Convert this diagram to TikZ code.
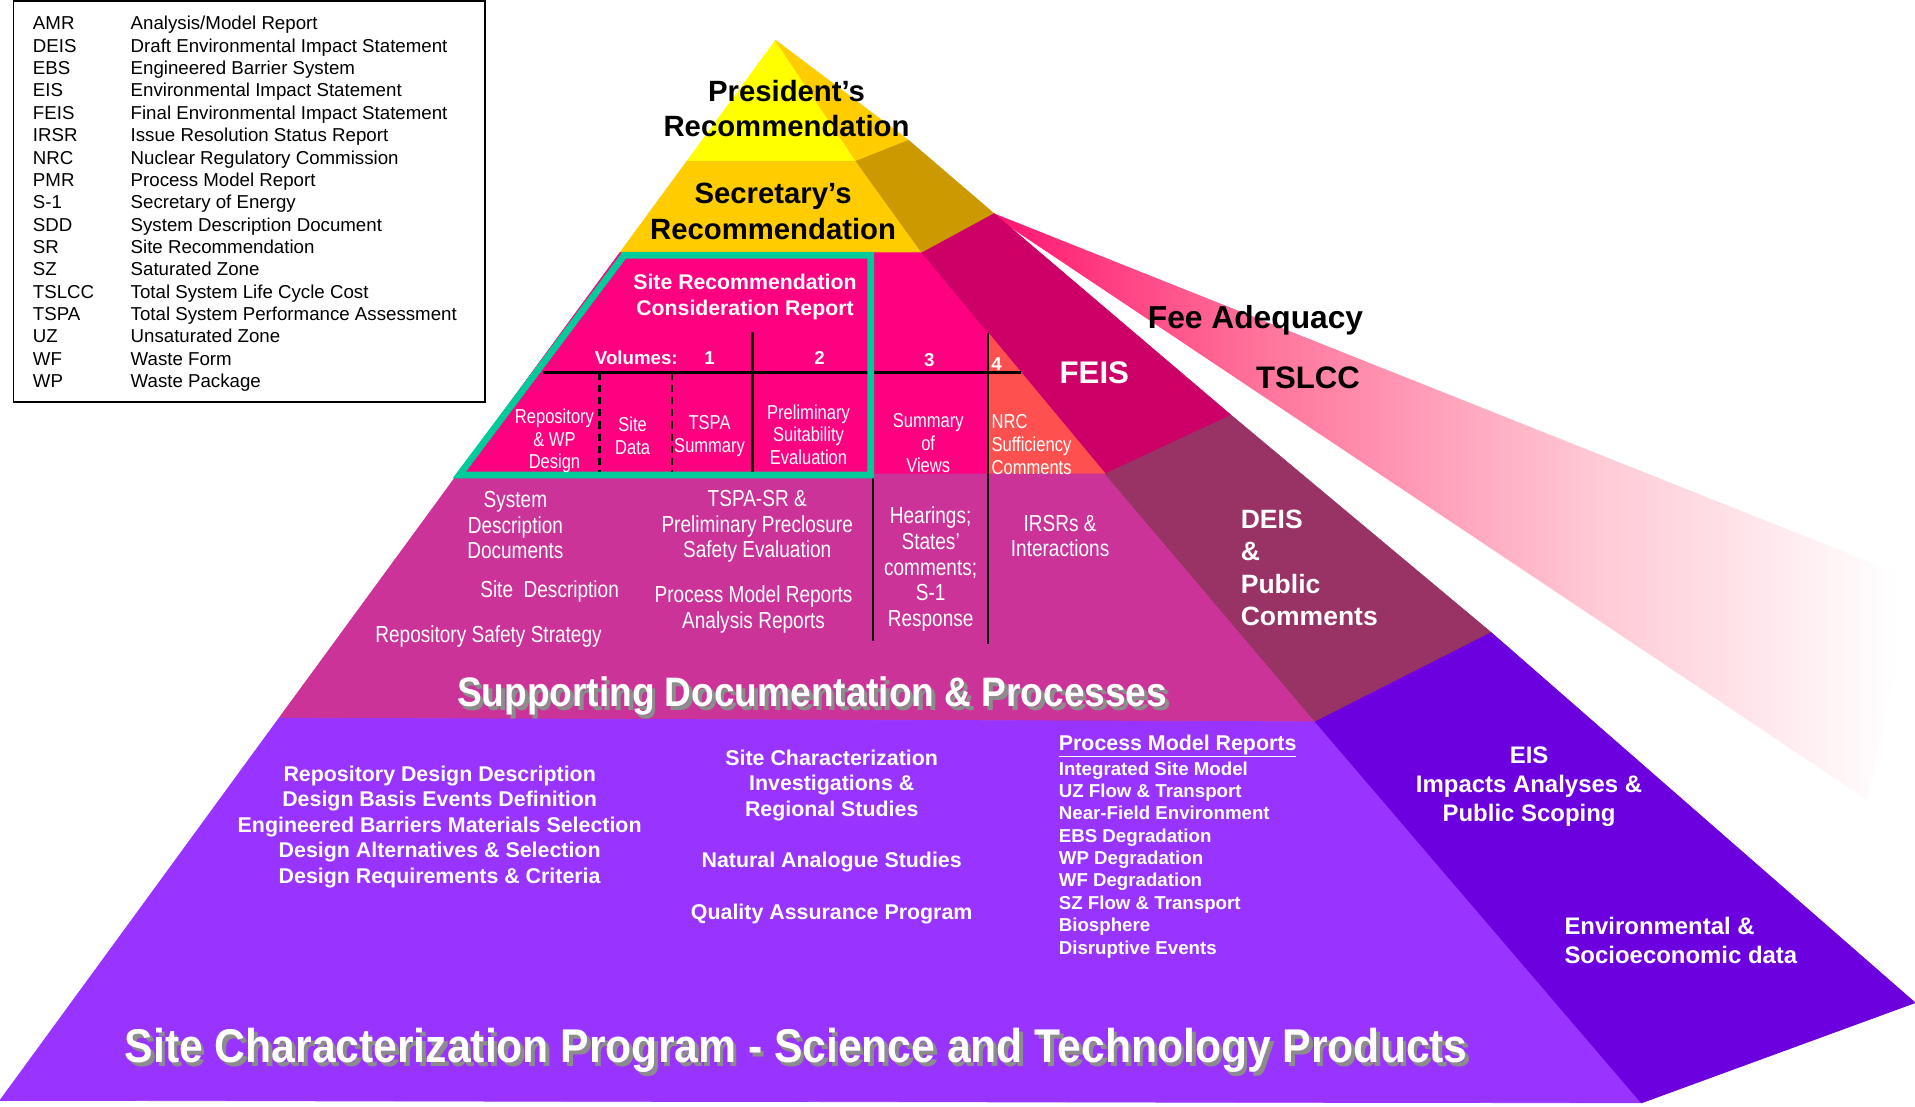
\documentclass[tikz,border=0pt]{standalone}
\usepackage{fontspec}
\setmainfont{Liberation Sans}
\newfontfamily\narrowfont[FakeStretch=0.82]{Liberation Sans}
\newfontfamily\titlefont[FakeStretch=0.9]{Liberation Sans}
\definecolor{presyellow}{HTML}{FFFF00}
\definecolor{secgold}{HTML}{FFCC00}
\definecolor{secside}{HTML}{CC9900}
\definecolor{srpink}{HTML}{FF0080}
\definecolor{feisside}{HTML}{CC0066}
\definecolor{nrcorange}{HTML}{FF5050}
\definecolor{supppink}{HTML}{CC3399}
\definecolor{deisside}{HTML}{993366}
\definecolor{scpurple}{HTML}{9933FF}
\definecolor{eisside}{HTML}{6C00DE}
\definecolor{srgreen}{HTML}{00CC99}
\definecolor{beampink}{HTML}{FF1470}
\definecolor{beammid}{RGB}{255,112,152}
\definecolor{beamlight}{RGB}{255,202,214}
\definecolor{beampale}{RGB}{255,232,237}
\pgfdeclarehorizontalshading{beamfade}{100bp}{color(0bp)=(beampink); color(25bp)=(beampink); color(39bp)=(beammid); color(58bp)=(beamlight); color(67bp)=(beampale); color(74bp)=(white); color(100bp)=(white)}
\begin{document}
\begin{tikzpicture}[x=1pt,y=-1pt,
	every node/.style={inner sep=0pt,outer sep=0pt},
	face/.style={fill=#1,draw=#1,line width=0.6pt,line join=round},
	legend/.style={anchor=base west,font=\fontsize{15.3}{18.3}\selectfont},
	hdr/.style={align=center,font=\bfseries\fontsize{24}{29}\selectfont},
	cell/.style={text=white,align=center,font=\narrowfont\fontsize{16.5}{18.5}\selectfont},
	supp/.style={text=white,align=center,font=\narrowfont\fontsize{19}{21}\selectfont},
	sci/.style={text=white,align=center,font=\bfseries\fontsize{17.5}{21}\selectfont},
	sidetext/.style={text=white,font=\bfseries\fontsize{19.6}{23.5}\selectfont},
	bigtitle/.style={font=\titlefont\bfseries\fontsize{#1}{#1}\selectfont},
	rule/.style={line width=2pt}]
	\useasboundingbox (0,0) rectangle (1568,906);
	\coordinate (apex) at (635,33);
	\coordinate (pl) at (562.5,132);
	\coordinate (pr) at (701,132);
	\coordinate (ps) at (744,115);
	\coordinate (sl) at (507.5,207);
	\coordinate (sr) at (755,207);
	\coordinate (ss) at (814,175);
	\coordinate (rl) at (374.8,388);
	\coordinate (rr) at (905,388);
	\coordinate (rs) at (1008,340);
	\coordinate (ul) at (228.5,588);
	\coordinate (ur) at (1077,591);
	\coordinate (us) at (1221,518);
	\coordinate (bl) at (0,901);
	\coordinate (br) at (1344,903);
	\coordinate (bs) at (1568,821);
	\shade[shading=beamfade] (812,174) -- (1568,475) -- (1529,655) -- (818,180) -- cycle;
	\filldraw[face=presyellow] (apex) -- (pl) -- (pr) -- cycle;
	\filldraw[face=secgold] (apex) -- (pr) -- (ps) -- cycle;
	\filldraw[face=secgold] (pl) -- (sl) -- (sr) -- (pr) -- cycle;
	\filldraw[face=secside] (pr) -- (ps) -- (ss) -- (sr) -- cycle;
	\filldraw[face=srpink] (sl) -- (rl) -- (rr) -- (sr) -- cycle;
	\filldraw[face=feisside] (sr) -- (ss) -- (rs) -- (rr) -- cycle;
	\filldraw[face=nrcorange] (809,272.5) -- (rr) -- (809,388) -- cycle;
	\filldraw[face=supppink] (rl) -- (ul) -- (ur) -- (rr) -- cycle;
	\filldraw[face=deisside] (rr) -- (rs) -- (us) -- (ur) -- cycle;
	\filldraw[face=scpurple] (ul) -- (bl) -- (br) -- (ur) -- cycle;
	\filldraw[face=eisside] (ur) -- (us) -- (bs) -- (br) -- cycle;
	\draw[rule] (445,305) -- (836,305);
	\draw[rule] (616,272) -- (616,388);
	\draw[rule,dash pattern=on 6pt off 4pt] (491,305) -- (491,388);
	\draw[rule,dash pattern=on 6pt off 4pt] (550,305) -- (550,388);
	\draw[rule] (715,388) -- (715,525);
	\draw[rule] (809,273) -- (809,527);
	\draw[srgreen,line width=5.5pt] (376,389) -- (511,209) -- (713,209) -- (713,389) -- cycle;
	\draw[line width=1.5pt] (11,1) rectangle (397,329);
	\foreach \ab/\df [count=\i] in {AMR/{Analysis/Model Report},DEIS/Draft Environmental Impact Statement,EBS/Engineered Barrier System,EIS/Environmental Impact Statement,FEIS/Final Environmental Impact Statement,IRSR/Issue Resolution Status Report,NRC/Nuclear Regulatory Commission,PMR/Process Model Report,S-1/Secretary of Energy,SDD/System Description Document,SR/Site Recommendation,SZ/Saturated Zone,TSLCC/Total System Life Cycle Cost,TSPA/Total System Performance Assessment,UZ/Unsaturated Zone,WF/Waste Form,WP/Waste Package}
	{
		\node[legend] (ab\i) at (27,{24.5+(\i-1)*18.3}) {\ab};
		\node[legend] (df\i) at (107,{24.5+(\i-1)*18.3}) {\df};
	}
	\node[hdr] (pres) at (644,89) {President’s\\Recommendation};
	\node[hdr] (secr) at (633,173) {Secretary’s\\Recommendation};
	\node[text=white,align=center,font=\bfseries\fontsize{17.4}{21}\selectfont] (srcr) at (610,243) {Site Recommendation\\Consideration Report};
	\node[text=white,font=\bfseries\fontsize{15.3}{18}\selectfont] (vol) at (521,293) {Volumes:};
	\node[text=white,font=\bfseries\fontsize{15.3}{18}\selectfont] (v1) at (581,293) {1};
	\node[text=white,font=\bfseries\fontsize{15.3}{18}\selectfont] (v2) at (671,293) {2};
	\node[text=white,font=\bfseries\fontsize{15.3}{18}\selectfont] (v3) at (761,295) {3};
	\node[text=white,font=\bfseries\fontsize{15.3}{18}\selectfont] (v4) at (816,298) {4};
	\node[cell] (repo) at (454,361) {Repository\\\& WP\\Design};
	\node[cell] (sitedata) at (518,357) {Site\\Data};
	\node[cell] (tspasum) at (581,357) {TSPA\\Summary};
	\node[cell] (prelim) at (662,356) {Preliminary\\Suitability\\Evaluation};
	\node[cell] (sumviews) at (760,363) {Summary\\of\\Views};
	\node[cell,align=left,anchor=west] (nrc) at (812,364) {NRC\\Sufficiency\\Comments};
	\node[supp] (sdd) at (422,430) {System\\Description\\Documents};
	\node[supp] (sitedesc) at (450,484) {Site\ \ Description};
	\node[supp] (rss) at (400,521) {Repository Safety Strategy};
	\node[supp] (tspasr) at (620,431) {TSPA-SR \&\\Preliminary Preclosure\\Safety Evaluation};
	\node[supp] (pmrar) at (617,499) {Process Model Reports\\Analysis Reports};
	\node[supp] (hearings) at (762,466) {Hearings;\\States’\\comments;\\S-1\\Response};
	\node[supp] (irsr) at (868,439) {IRSRs \&\\Interactions};
	\node[bigtitle=33.7,text=black!45] (suppshadow) at (668,573) {Supporting Documentation \& Processes};
	\node[bigtitle=33.7,text=white] (supptitle) at (665,570) {Supporting Documentation \& Processes};
	\node[sci] (rdd) at (360,677) {Repository Design Description\\Design Basis Events Definition\\Engineered Barriers Materials Selection\\Design Alternatives \& Selection\\Design Requirements \& Criteria};
	\node[sci] (scinv) at (681,643) {Site Characterization\\Investigations \&\\Regional Studies};
	\node[sci] (natural) at (681,706) {Natural Analogue Studies};
	\node[sci] (qap) at (681,748) {Quality Assurance Program};
	\node[sci,anchor=west] (pmrhead) at (867,611) {\underline{Process Model Reports}};
	\node[sci,anchor=west,align=left,font=\bfseries\fontsize{15.3}{18.3}\selectfont] (pmrlist) at (867,704) {Integrated Site Model\\UZ Flow \& Transport\\Near-Field Environment\\EBS Degradation\\WP Degradation\\WF Degradation\\SZ Flow \& Transport\\Biosphere\\Disruptive Events};
	\node[bigtitle=38.8,text=black!45] (scpshadow) at (655,863) {Site Characterization Program - Science and Technology Products};
	\node[bigtitle=38.8,text=white] (scptitle) at (652,860) {Site Characterization Program - Science and Technology Products};
	\node[sidetext,align=center] (eis) at (1252,644) {EIS\\Impacts Analyses \&\\Public Scoping};
	\node[sidetext,align=left,anchor=west] (envdata) at (1281,770) {Environmental \&\\Socioeconomic data};
	\node[text=white,align=left,anchor=west,font=\bfseries\fontsize{21.7}{26.3}\selectfont] (deis) at (1016,465) {DEIS\\\&\\Public\\Comments};
	\node[text=white,font=\bfseries\fontsize{25.6}{30}\selectfont] (feis) at (896,305) {FEIS};
	\node[font=\bfseries\fontsize{26}{30}\selectfont] (fee) at (1028,262) {Fee Adequacy};
	\node[font=\bfseries\fontsize{25.5}{30}\selectfont] (tslcc) at (1071,309) {TSLCC};
\end{tikzpicture}
\end{document}
